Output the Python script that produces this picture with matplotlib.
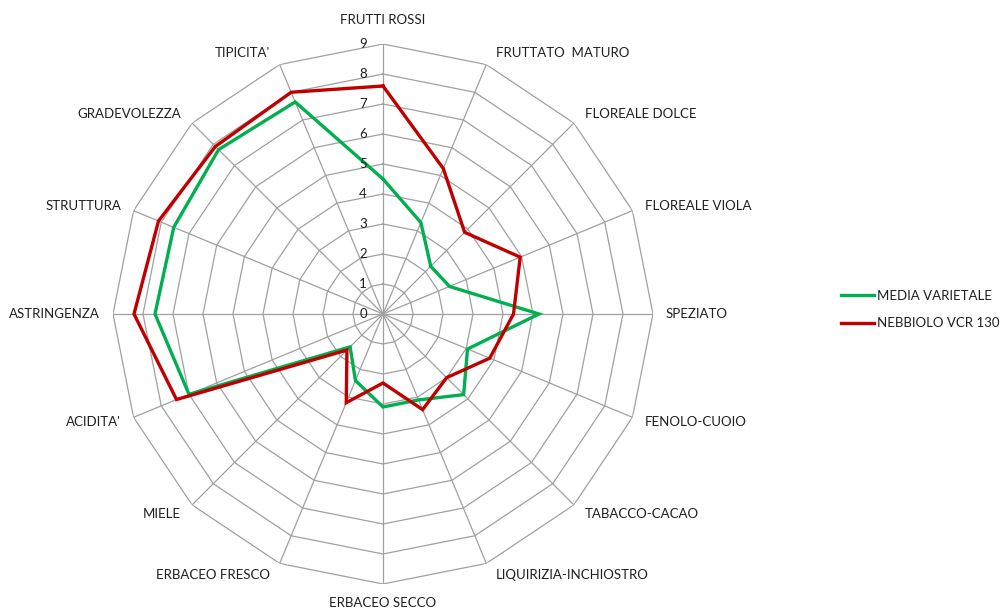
import matplotlib
matplotlib.use('Agg')
import matplotlib.pyplot as plt
import numpy as np

categories = ["FRUTTI ROSSI", "FRUTTATO  MATURO", "FLOREALE DOLCE", "FLOREALE VIOLA",
              "SPEZIATO", "FENOLO-CUOIO", "TABACCO-CACAO", "LIQUIRIZIA-INCHIOSTRO",
              "ERBACEO SECCO", "ERBACEO FRESCO", "MIELE", "ACIDITA'",
              "ASTRINGENZA", "STRUTTURA", "GRADEVOLEZZA", "TIPICITA'"]
media_varietale = [4.5, 3.3, 2.25, 2.4, 5.2, 3.05, 3.8, 3.1,
                   3.1, 2.4, 1.55, 7.0, 7.6, 7.55, 7.75, 7.65]
nebbiolo_vcr130 = [7.6, 5.25, 3.85, 4.95, 4.35, 3.85, 3.0, 3.45,
                   2.3, 3.2, 1.7, 7.45, 8.3, 8.1, 7.9, 8.0]
series_names = ["MEDIA VARIETALE", "NEBBIOLO VCR 130"]
tick_values = list(range(0, 10))

plt.rcParams['font.family'] = ['Lato', 'DejaVu Sans']
FS = 9.5
TXT = '#1f1f1f'
GRID = '#a0a0a0'

W, H = 1004, 611
fig = plt.figure(figsize=(W / 100, H / 100), dpi=100)
cx, cy, R = 383, 314, 270
ax = fig.add_axes([(cx - R) / W, (H - cy - R) / H, 2 * R / W, 2 * R / H], projection='polar')
ax.set_theta_zero_location('N')
ax.set_theta_direction(-1)
ax.set_ylim(0, tick_values[-1])
ax.grid(False)
ax.set_xticks([])
ax.set_yticks([])
ax.spines['polar'].set_visible(False)
ax.patch.set_visible(False)

n = len(categories)
theta = np.linspace(0, 2 * np.pi, n, endpoint=False)
theta_c = np.append(theta, theta[0])

for v in tick_values[1:]:
    ax.plot(theta_c, [v] * (n + 1), color=GRID, lw=0.9, zorder=1)
for t in theta:
    ax.plot([t, t], [0, tick_values[-1]], color=GRID, lw=0.9, zorder=1)

colors = ['#00B050', '#C00000']
for name, vals, c in zip(series_names, [media_varietale, nebbiolo_vcr130], colors):
    ax.plot(theta_c, list(vals) + [vals[0]], color=c, lw=2.4, label=name, zorder=3,
            solid_joinstyle='miter')

for v in tick_values:
    ax.annotate(str(v), xy=(0, v), xytext=(-16, 0), textcoords='offset pixels',
                ha='right', va='center', fontsize=FS, color=TXT, zorder=4)

for i, (t, lab) in enumerate(zip(theta, categories)):
    s, c = np.sin(t), np.cos(t)
    if abs(s) < 1e-6:
        ha = 'center'
        off = (0, 24 if c > 0 else -19)
    else:
        ha = 'left' if s > 0 else 'right'
        off = (13 * np.sign(s) * (0.55 + 0.45 * abs(s)), 13 * c)
    ax.annotate(lab, xy=(t, tick_values[-1]), xytext=off, textcoords='offset pixels',
                ha=ha, va='center', fontsize=FS, color=TXT)

fig.legend(loc='upper left', bbox_to_anchor=(834 / W, 1 - 283 / H), frameon=False,
           fontsize=FS, handlelength=2.5, handletextpad=0.25, labelspacing=1.2,
           borderpad=0, labelcolor=TXT)

fig.savefig('out.png', dpi=100)
